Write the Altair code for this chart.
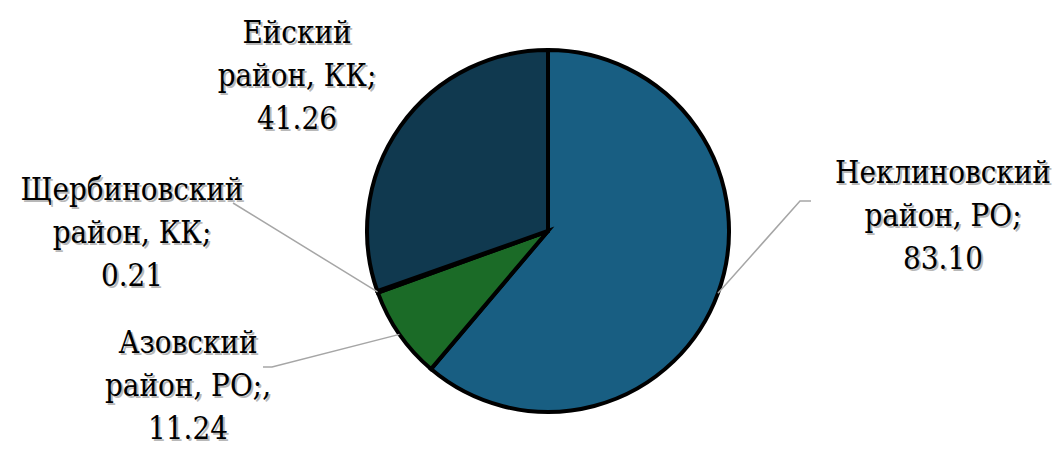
import altair as alt
import numpy as np
import pandas as pd

# ---- data ----
names = ["Неклиновский\nрайон, РО;", "Азовский\nрайон, РО;,", "Щербиновский\nрайон, КК;", "Ейский\nрайон, КК;"]
values = [83.10, 11.24, 0.21, 41.26]
colors = ["#185E82", "#1B6B27", "#3F6B8A", "#10394F"]

# ---- layout (chart pixel coordinates) ----
W, H = 1046, 439
CX, CY, R = 540, 223, 181
label_pos = [(935, 175), (180, 345), (124, 192), (289, 35)]   # first-line baseline, centre x
leader_ends = [[(792, 193), (803, 193)], [(264, 359), (255, 359)], [(225, 195)], []]

n = len(values)
df = pd.DataFrame({
    "idx": list(range(n)),
    "name": names,
    "value": values,
    "label": [f"{nm}\n{v:.2f}" for nm, v in zip(names, values)],
    "lx": [p[0] for p in label_pos],
    "ly": [p[1] for p in label_pos],
})

# leader lines start on the rim at the slice's middle angle
vals = np.array(values)
cum = np.cumsum(vals) - vals / 2
mid = cum / vals.sum() * 2 * np.pi
rows = []
for i in range(n):
    if not leader_ends[i]:
        continue
    sx = CX + R * np.sin(mid[i])
    sy = CY - R * np.cos(mid[i])
    pts = [(sx, sy)] + leader_ends[i]
    for k, (px, py) in enumerate(pts):
        rows.append({"name": names[i], "seq": k, "px": px, "py": py})
lines_df = pd.DataFrame(rows)

pie = alt.Chart(df).mark_arc(
    outerRadius=R, stroke="black", strokeWidth=4, strokeJoin="miter"
).encode(
    theta=alt.Theta("value:Q", stack=True),
    order=alt.Order("idx:Q"),
    color=alt.Color("name:N", scale=alt.Scale(domain=names, range=colors), legend=None),
    x=alt.value(CX),
    y=alt.value(CY),
)

leaders = alt.Chart(lines_df).mark_line(color="#A6A6A6", strokeWidth=1.5).encode(
    x=alt.X("px:Q", scale=None),
    y=alt.Y("py:Q", scale=None),
    detail="name:N",
    order="seq:Q",
)

text_kw = dict(font="DejaVu Serif Condensed",
               fontSize=31, lineHeight=43, lineBreak="\n",
               align="center", baseline="alphabetic")

shadow = alt.Chart(df).mark_text(color="#7F7F7F", opacity=0.55, dx=2, dy=2, **text_kw).encode(
    x=alt.X("lx:Q", scale=None), y=alt.Y("ly:Q", scale=None), text="label:N"
)
labels = alt.Chart(df).mark_text(color="black", **text_kw).encode(
    x=alt.X("lx:Q", scale=None), y=alt.Y("ly:Q", scale=None), text="label:N"
)

chart = alt.layer(pie, leaders, shadow, labels).properties(
    width=W, height=H, padding=0, autosize=alt.AutoSizeParams(type="none")
).configure_view(stroke=None)

chart.save("out.html", embed_options={"renderer": "svg", "actions": False})
